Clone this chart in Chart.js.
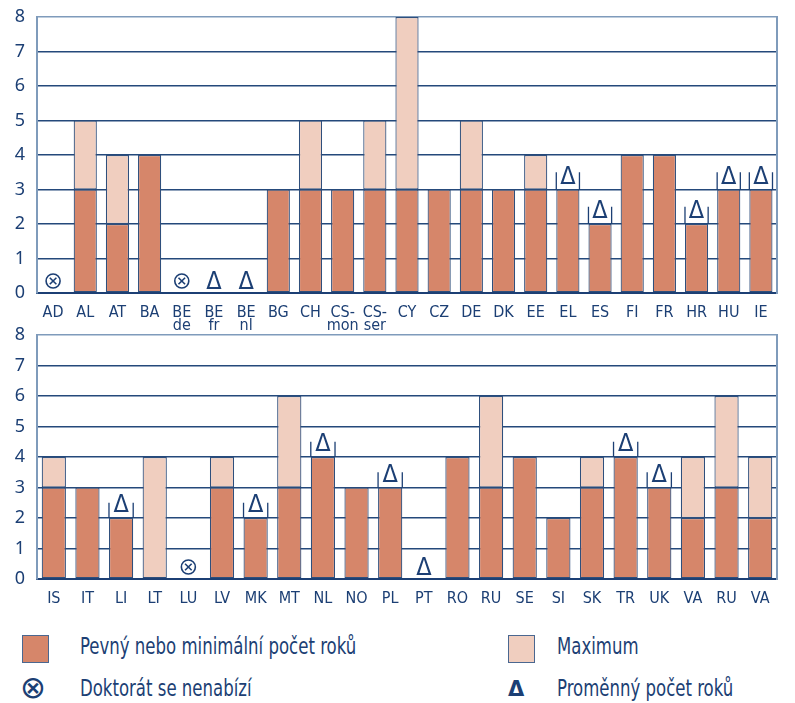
<!DOCTYPE html>
<html>
<head>
<meta charset="utf-8">
<script src="https://cdn.jsdelivr.net/npm/chart.js@4"></script>
<style>
  body { margin: 0; background: #fff; width: 795px; height: 703px; position: relative; overflow: hidden; }
  canvas { position: absolute; left: 0; }
  #c1 { top: 0; }
  #c2 { top: 318px; }
  .key { position: absolute; color: #1c3f74; font-family: "Liberation Sans Narrow", "DejaVu Sans Condensed", sans-serif; font-size: 23px; line-height: 28px; white-space: nowrap; transform: scaleX(0.8); transform-origin: left center; }
  .sym { position: absolute; color: #1c3f74; font-family: "DejaVu Sans", sans-serif; line-height: 28px; }
  .swatch { position: absolute; width: 25px; height: 26px; border: 1px solid #4a6790; }
</style>
</head>
<body>
<canvas id="c1" width="795" height="335"></canvas>
<canvas id="c2" width="795" height="292"></canvas>

<div class="swatch" style="left:22px; top:635px; background:#d6866a;"></div>
<div class="key" style="left:80px; top:632px;">Pevný nebo minimální počet roků</div>
<div class="swatch" style="left:508px; top:635px; background:#f0cebf;"></div>
<div class="key" style="left:557px; top:632px;">Maximum</div>
<div class="sym" style="left:20px; top:673px; font-size:31px;">⊗</div>
<div class="key" style="left:80px; top:674px;">Doktorát se nenabízí</div>
<div class="sym" style="left:508px; top:675px; font-size:21px; font-weight:bold;">Δ</div>
<div class="key" style="left:557px; top:674px;">Proměnný počet roků</div>

<script>
// top panel
const labels1 = ['AD', 'AL', 'AT', 'BA', ['BE', 'de'], ['BE', 'fr'], ['BE', 'nl'], 'BG', 'CH', ['CS-', 'mon'], ['CS-', 'ser'],
  'CY', 'CZ', 'DE', 'DK', 'EE', 'EL', 'ES', 'FI', 'FR', 'HR', 'HU', 'IE'];
const minYears1 = [null, 3, 2, 4, null, null, null, 3, 3, 3, 3, 3, 3, 3, 3, 3, 3, 2, 4, 4, 2, 3, 3];
const maxYears1 = [null, 5, 4, null, null, null, null, null, 5, null, 5, 8, null, 5, null, 4, null, null, null, null, null, null, null];
// x = doctorate not offered, v = variable number of years
const notes1 = ['x', '', '', '', 'x', 'v', 'v', '', '', '', '', '', '', '', '', '', 'v', 'v', '', '', 'v', 'v', 'v'];

// bottom panel
const labels2 = ['IS', 'IT', 'LI', 'LT', 'LU', 'LV', 'MK', 'MT', 'NL', 'NO', 'PL', 'PT', 'RO', 'RU', 'SE', 'SI', 'SK', 'TR', 'UK', 'VA', 'RU', 'VA'];
const minYears2 = [3, 3, 2, null, null, 3, 2, 3, 4, 3, 3, null, 4, 3, 4, 2, 3, 4, 3, 2, 3, 2];
const maxYears2 = [4, null, null, 4, null, 4, null, 6, null, null, null, null, null, 6, null, null, 4, null, null, 4, 6, 4];
const notes2 = ['', '', 'v', '', 'x', '', 'v', '', 'v', '', 'v', 'v', '', '', '', '', '', 'v', 'v', '', '', ''];

const yTicks = [0, 1, 2, 3, 4, 5, 6, 7, 8];

const navy = '#1c3f74';
const darkFill = '#d6866a';
const lightFill = '#f0cebf';
const barEdge = '#2f4f7c';
const narrow = '"Liberation Sans Narrow", "DejaVu Sans Condensed", sans-serif';

const markerPlugin = {
  id: 'markers',
  afterDatasetsDraw(chart) {
    const { ctx, scales: { x, y } } = chart;
    const notes = chart.options.plugins.markers.notes;
    const mins = chart.options.plugins.markers.mins;
    const half = (x.getPixelForValue(1) - x.getPixelForValue(0)) * 0.72 / 2;
    ctx.save();
    ctx.strokeStyle = navy;
    ctx.fillStyle = navy;
    notes.forEach((n, i) => {
      const cx = x.getPixelForValue(i);
      if (n === 'x') {
        const cy = y.getPixelForValue(0) - 12;
        ctx.lineWidth = 1.6;
        ctx.beginPath();
        ctx.arc(cx, cy, 7, 0, Math.PI * 2);
        ctx.stroke();
        ctx.beginPath();
        ctx.moveTo(cx - 3.3, cy - 3.3); ctx.lineTo(cx + 3.3, cy + 3.3);
        ctx.moveTo(cx + 3.3, cy - 3.3); ctx.lineTo(cx - 3.3, cy + 3.3);
        ctx.stroke();
      } else if (n === 'v') {
        const v = mins[i];
        ctx.font = '25px ' + narrow;
        ctx.textAlign = 'center';
        ctx.textBaseline = 'alphabetic';
        if (v) {
          const y0 = y.getPixelForValue(v);
          const y1 = y.getPixelForValue(v + 0.5);
          ctx.lineWidth = 1.3;
          ctx.beginPath();
          ctx.moveTo(cx - half, y0); ctx.lineTo(cx - half, y1);
          ctx.moveTo(cx + half, y0); ctx.lineTo(cx + half, y1);
          ctx.stroke();
          ctx.fillText('Δ', cx, y0 - 6);
        } else {
          ctx.fillText('Δ', cx, y.getPixelForValue(0) - 4);
        }
      }
    });
    ctx.restore();
  }
};

function fitY(width) {
  return (s) => { s.width = width; s.paddingTop = 0; s.paddingBottom = 0; };
}

function makePanel(id, labels, mins, maxs, notes, topPad, xHeight) {
  return new Chart(document.getElementById(id), {
    type: 'bar',
    data: {
      labels: labels,
      datasets: [{
        label: 'Pevný nebo minimální počet roků',
        data: mins,
        backgroundColor: darkFill,
        borderColor: barEdge,
        borderWidth: 1.2,
        borderSkipped: false,
      }, {
        label: 'Maximum',
        data: maxs.map((m, i) => (m == null ? null : [mins[i] || 0, m])),
        backgroundColor: lightFill,
        borderColor: barEdge,
        borderWidth: 1.2,
        borderSkipped: false,
      }],
    },
    options: {
      responsive: false,
      animation: false,
      layout: { padding: { top: topPad, left: 0, right: 0, bottom: 0 } },
      datasets: { bar: { barPercentage: 0.72, categoryPercentage: 1 } },
      plugins: {
        legend: { display: false },
        tooltip: { enabled: false },
        markers: { notes: notes, mins: mins },
      },
      scales: {
        x: {
          stacked: true,
          grid: { display: false },
          border: { display: true, color: navy, width: 2 },
          ticks: { color: navy, font: { family: narrow, size: 16, lineHeight: 0.78 }, padding: 6, maxRotation: 0, autoSkip: false },
          afterFit: (s) => { s.height = xHeight; },
        },
        y: {
          min: 0, max: 8,
          afterBuildTicks: (s) => { s.ticks = yTicks.map(v => ({ value: v })); },
          grid: { color: (c) => (c.tick.value === 8 ? '#7f9bbb' : '#24497b'), lineWidth: 1.6, drawTicks: false },
          border: { display: true, color: '#7f9bbb', width: 2 },
          ticks: { color: navy, font: { family: '"Noto Sans", sans-serif', size: 18 }, padding: 12 },
          afterFit: fitY(37),
        },
        y2: {
          position: 'right',
          min: 0, max: 8,
          afterBuildTicks: (s) => { s.ticks = yTicks.map(v => ({ value: v })); },
          grid: { display: false },
          border: { display: true, color: '#7f9bbb', width: 2 },
          ticks: { color: navy, font: { family: '"Noto Sans", sans-serif', size: 18 }, padding: 12 },
          afterFit: fitY(18),
        },
      },
    },
    plugins: [markerPlugin],
  });
}

makePanel('c1', labels1, minYears1, maxYears1, notes1, 17, 42);
makePanel('c2', labels2, minYears2, maxYears2, notes2, 17, 31);
</script>
</body>
</html>
